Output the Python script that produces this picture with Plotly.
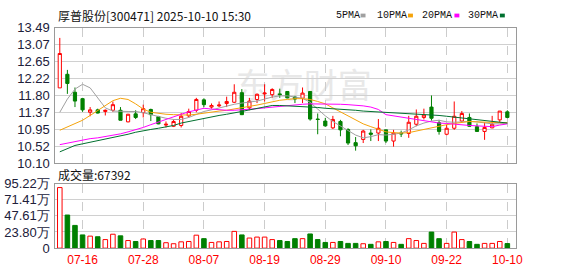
import plotly.graph_objects as go

W, H = 578, 276

dates = ["07-11", "07-14", "07-15", "07-16", "07-17", "07-18", "07-21", "07-22", "07-23", "07-24",
         "07-25", "07-28", "07-29", "07-30", "07-31", "08-01", "08-04", "08-05", "08-06", "08-07",
         "08-08", "08-11", "08-12", "08-13", "08-14", "08-15", "08-18", "08-19", "08-20", "08-21",
         "08-22", "08-25", "08-26", "08-27", "08-28", "08-29", "09-01", "09-02", "09-03", "09-04",
         "09-05", "09-08", "09-09", "09-10", "09-11", "09-12", "09-15", "09-16", "09-17", "09-18",
         "09-19", "09-22", "09-23", "09-24", "09-25", "09-26", "09-29", "09-30", "10-09", "10-10"]

open_ = [11.98, 12.32, 11.87, 11.71, 11.37, 11.43, 11.39, 11.42, 11.42, 11.13,
         11.33, 11.36, 11.44, 11.26, 11.05, 11.02, 11.04, 11.28, 11.42, 11.68,
         11.50, 11.53, 11.59, 11.62, 11.86, 11.48, 11.69, 11.83, 11.81, 11.83,
         11.89, 11.75, 11.72, 11.89, 11.20, 11.15, 10.98, 11.14, 10.94, 10.61,
         10.69, 10.85, 10.85, 10.93, 10.65, 10.85, 10.84, 11.07, 11.24, 11.50,
         11.11, 10.82, 10.97, 11.15, 11.24, 11.01, 10.89, 10.98, 11.18, 11.38]
high = [13.23, 12.43, 11.99, 11.73, 11.50, 11.46, 11.44, 11.64, 11.50, 11.33,
        11.42, 11.56, 11.46, 11.28, 11.14, 11.19, 11.35, 11.46, 11.73, 11.72,
        11.59, 11.64, 11.76, 12.07, 11.95, 11.73, 11.84, 12.07, 11.97, 11.96,
        11.89, 11.78, 11.99, 11.89, 11.34, 11.23, 11.28, 11.18, 10.97, 10.75,
        10.93, 10.94, 11.20, 10.93, 10.93, 10.91, 11.28, 11.44, 11.46, 11.79,
        11.18, 11.06, 11.64, 11.40, 11.34, 11.09, 11.12, 11.28, 11.40, 11.42]
low = [11.98, 11.83, 11.50, 11.38, 11.27, 11.34, 11.29, 11.38, 11.17, 11.12,
       11.20, 11.24, 11.15, 11.07, 10.99, 11.00, 10.99, 11.24, 11.37, 11.50,
       11.46, 11.50, 11.50, 11.60, 11.30, 11.42, 11.60, 11.64, 11.73, 11.73,
       11.72, 11.60, 11.60, 11.16, 10.82, 11.01, 10.95, 10.77, 10.55, 10.41,
       10.60, 10.65, 10.65, 10.60, 10.51, 10.75, 10.73, 11.02, 11.19, 11.16,
       10.81, 10.79, 10.93, 11.12, 11.01, 10.89, 10.68, 10.97, 11.12, 11.22]
close = [12.84, 12.09, 11.65, 11.43, 11.43, 11.35, 11.42, 11.56, 11.17, 11.32,
         11.24, 11.46, 11.31, 11.08, 11.07, 11.14, 11.27, 11.39, 11.69, 11.56,
         11.54, 11.55, 11.64, 11.87, 11.31, 11.65, 11.82, 11.85, 11.94, 11.81,
         11.73, 11.70, 11.85, 11.20, 11.19, 11.03, 11.19, 10.93, 10.60, 10.53,
         10.90, 10.82, 10.97, 10.65, 10.85, 10.83, 11.12, 11.27, 11.30, 11.22,
         10.89, 10.97, 11.27, 11.34, 11.02, 10.89, 10.99, 11.07, 11.40, 11.24]

ma5 = [11.37, 11.70, 11.95, 12.07, 11.98, 11.72, 11.48, 11.40, 11.39, 11.39,
       11.39, 11.36, 11.31, 11.26, 11.22, 11.19, 11.19, 11.24, 11.31, 11.39,
       11.43, 11.48, 11.52, 11.57, 11.60, 11.62, 11.65, 11.70, 11.75, 11.78,
       11.78, 11.75, 11.72, 11.62, 11.45, 11.28, 11.14, 11.03, 10.92, 10.80,
       10.73, 10.76, 10.81, 10.80, 10.82, 10.85, 10.93, 11.03, 11.10, 11.15,
       11.17, 11.13, 11.12, 11.13, 11.14, 11.13, 11.10, 11.08, 11.08, 11.10]
ma10 = [10.92, 11.00, 11.08, 11.17, 11.29, 11.41, 11.55, 11.66, 11.72, 11.69,
        11.58, 11.45, 11.37, 11.34, 11.32, 11.31, 11.30, 11.30, 11.32, 11.35,
        11.38, 11.40, 11.42, 11.45, 11.48, 11.51, 11.55, 11.59, 11.63, 11.67,
        11.69, 11.71, 11.71, 11.69, 11.64, 11.58, 11.48, 11.38, 11.27, 11.17,
        11.08, 11.01, 10.95, 10.88, 10.86, 10.85, 10.86, 10.90, 10.95, 10.99,
        11.03, 11.06, 11.09, 11.12, 11.14, 11.13, 11.12, 11.11, 11.11, 11.11]
ma20 = [10.56, 10.60, 10.64, 10.68, 10.71, 10.73, 10.76, 10.79, 10.83, 10.88,
        10.93, 10.99, 11.06, 11.13, 11.20, 11.26, 11.32, 11.38, 11.43, 11.47,
        11.45, 11.43, 11.42, 11.42, 11.43, 11.44, 11.46, 11.48, 11.50, 11.52,
        11.54, 11.56, 11.57, 11.58, 11.58, 11.58, 11.58, 11.57, 11.56, 11.55,
        11.53, 11.50, 11.44, 11.31, 11.28, 11.25, 11.22, 11.19, 11.16, 11.13,
        11.10, 11.09, 11.07, 11.05, 11.04, 11.03, 11.02, 11.01, 11.05, 11.08]
ma30 = [10.38, 10.47, 10.54, 10.58, 10.62, 10.66, 10.69, 10.73, 10.77, 10.82,
        10.87, 10.91, 10.94, 10.97, 11.00, 11.04, 11.10, 11.14, 11.18, 11.21,
        11.25, 11.29, 11.32, 11.35, 11.39, 11.43, 11.47, 11.51, 11.54, 11.54,
        11.53, 11.53, 11.52, 11.51, 11.49, 11.47, 11.46, 11.45, 11.44, 11.42,
        11.40, 11.39, 11.38, 11.37, 11.36, 11.35, 11.34, 11.33, 11.32, 11.31,
        11.29, 11.27, 11.25, 11.23, 11.21, 11.18, 11.16, 11.14, 11.12, 11.10]

volume = [893000, 488000, 335000, 195000, 177000, 168000, 126000, 205000, 181000, 112000,
          98000, 135000, 112000, 112000, 80000, 65000, 93000, 98000, 191000, 140000,
          84000, 93000, 98000, 247000, 195000, 149000, 163000, 163000, 126000, 112000,
          98000, 140000, 140000, 209000, 126000, 84000, 84000, 98000, 70000, 70000,
          65000, 56000, 93000, 98000, 84000, 56000, 140000, 112000, 70000, 237000,
          140000, 70000, 237000, 126000, 98000, 56000, 70000, 70000, 98000, 67392]

price_ticks = [10.10, 10.52, 10.95, 11.37, 11.80, 12.22, 12.65, 13.07, 13.49]
price_labels = ["10.10", "10.52", "10.95", "11.37", "11.80", "12.22", "12.65", "13.07", "13.49"]
vol_ticks = [0, 238000, 476100, 714100, 952200]
vol_labels = ["0", "23.80万", "47.61万", "71.41万", "95.22万"]
date_ticks = ["07-16", "07-28", "08-07", "08-19", "08-29", "09-10", "09-22", "10-10"]

ma_names = ["5PMA", "10PMA", "20PMA", "30PMA"]
ma_colors = ["#a0a0a0", "#f5a30a", "#ff00ff", "#00702f"]

title_text = "厚普股份[300471] 2025-10-10 15:30"
vol_title = "成交量:67392"

RED = "#ff0000"
GREEN = "#008000"

fig = go.Figure()

fig.add_trace(go.Candlestick(
    x=dates, open=open_, high=high, low=low, close=close,
    increasing=dict(line=dict(color=RED, width=1), fillcolor="white"),
    decreasing=dict(line=dict(color=GREEN, width=1), fillcolor=GREEN),
    whiskerwidth=0, xaxis="x", yaxis="y", showlegend=False, hoverinfo="skip"))

for vals, col in zip([ma5, ma10, ma20, ma30], ma_colors):
    fig.add_trace(go.Scatter(x=dates, y=vals, mode="lines",
                             line=dict(color=col, width=1, shape="linear"),
                             xaxis="x", yaxis="y", showlegend=False, hoverinfo="skip"))

up = [c >= o for o, c in zip(open_, close)]
fig.add_trace(go.Bar(
    x=dates, y=volume, width=0.6,
    marker=dict(color=["white" if u else GREEN for u in up],
                line=dict(color=[RED if u else GREEN for u in up], width=1)),
    xaxis="x2", yaxis="y2", showlegend=False, hoverinfo="skip"))

x_dom = [56 / W, 522 / W]
y1_dom = [1 - 165 / H, 1 - 21.7 / H]
y2_dom = [1 - 255 / H, 1 - 186.7 / H]
x_range = [-0.59, 60.1]

tickfont_y = dict(family="Liberation Sans, Arial, sans-serif", size=13, color="#20203a")
frame = dict(showline=True, linecolor="#9a9a9a", linewidth=1, mirror=True)

fig.update_layout(
    width=W, height=H, margin=dict(l=0, r=0, t=0, b=0),
    paper_bgcolor="white", plot_bgcolor="white",
    boxgap=0.4,
    xaxis=dict(domain=x_dom, type="category", range=x_range, categoryorder="array",
               categoryarray=dates, tickvals=date_ticks, showticklabels=False,
               showgrid=True, gridcolor="#cccccc", griddash="dash", gridwidth=1,
               rangeslider=dict(visible=False), anchor="y", ticks="", zeroline=False, **frame),
    yaxis=dict(domain=y1_dom, range=[10.10, 13.49], tickvals=price_ticks, ticktext=price_labels,
               showgrid=True, gridcolor="#d0d0d0", gridwidth=1, ticks="outside", ticklen=2,
               tickcolor="rgba(0,0,0,0)", tickfont=tickfont_y, zeroline=False, anchor="x", **frame),
    xaxis2=dict(domain=x_dom, type="category", range=x_range, categoryorder="array",
                categoryarray=dates, tickvals=date_ticks, ticktext=date_ticks,
                tickfont=dict(family="Liberation Sans, Arial, sans-serif", size=12, color=RED),
                showgrid=True, gridcolor="#cccccc", griddash="dash", gridwidth=1,
                anchor="y2", ticks="", zeroline=False, **frame),
    yaxis2=dict(domain=y2_dom, range=[0, 952200], tickvals=vol_ticks, ticktext=vol_labels,
                showgrid=True, gridcolor="#d0d0d0", gridwidth=1, ticks="outside", ticklen=2,
                tickcolor="rgba(0,0,0,0)", tickfont=tickfont_y, zeroline=False, anchor="x2", **frame),
)

ann = []
ann.append(dict(text=title_text, x=57 / W, y=1 - 8.5 / H, xref="paper", yref="paper",
                xanchor="left", yanchor="middle", showarrow=False,
                font=dict(family="Noto Sans CJK SC", size=12, color="#111111")))
ann.append(dict(text=vol_title, x=57 / W, y=1 - 177.5 / H, xref="paper", yref="paper",
                xanchor="left", yanchor="middle", showarrow=False,
                font=dict(family="Noto Sans CJK SC", size=12, color="#111111")))

legend_x = [338, 380, 425, 472]
swatch_x = [365, 413, 460, 506]
shapes = []
for name, col, lx, sx in zip(ma_names, ma_colors, legend_x, swatch_x):
    ann.append(dict(text=name, x=lx / W, y=1 - 9 / H, xref="paper", yref="paper",
                    xanchor="left", yanchor="middle", showarrow=False,
                    font=dict(family="Liberation Mono, monospace", size=10, color="#111111")))
    shapes.append(dict(type="rect", xref="paper", yref="paper",
                       x0=sx / W, x1=(sx + 5) / W, y0=1 - 11 / H, y1=1 - 7 / H,
                       fillcolor=col, line=dict(width=0)))

shapes.append(dict(type="rect", xref="paper", yref="paper", layer="below",
                   x0=230 / W, x1=385 / W, y0=1 - 104 / H, y1=1 - 68 / H,
                   line=dict(width=0), fillcolor="rgba(0,0,0,0)",
                   label=dict(text="东方财富", font=dict(family="Noto Sans CJK SC", size=34,
                                                     color="#e8e8e8"))))

fig.update_layout(annotations=ann, shapes=shapes)

fig.write_html("out.html")
